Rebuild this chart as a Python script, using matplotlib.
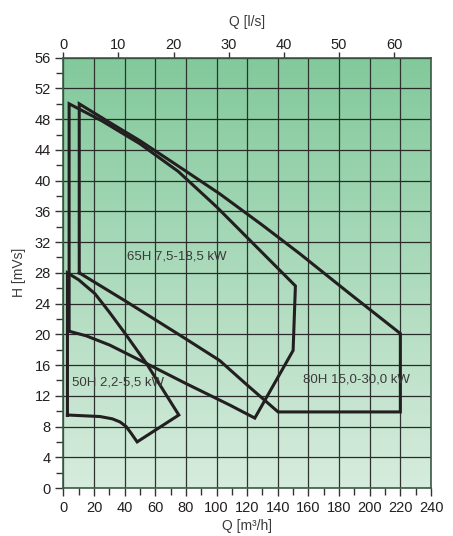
import matplotlib
matplotlib.use("Agg")
import matplotlib.pyplot as plt
import numpy as np
from matplotlib import font_manager
from matplotlib.colors import LinearSegmentedColormap

# ---- data (Q in m3/h, H in mVs) ----
q_50h = [2.7, 2.7, 10, 20.6, 30, 40, 54.3, 75.4, 48.2, 44, 41, 37, 32, 24, 2.7]
h_50h = [9.5, 28.0, 27.1, 25.3, 22.9, 20.2, 16.2, 9.5, 6.0, 7.2, 8.0, 8.6, 9.0, 9.3, 9.5]

q_65h = [3.8, 3.8, 25, 50, 75, 100, 125, 151.5, 150, 125, 108.6, 80, 54.3, 30.3, 15, 3.8]
h_65h = [20.4, 50.0, 47.8, 44.8, 41.2, 36.6, 31.6, 26.3, 17.9, 9.1, 10.8, 13.6, 16.2, 18.6, 19.8, 20.4]

q_80h = [10.4, 10.4, 30, 50, 75, 102, 130, 154.3, 185, 220, 220, 140.2, 120, 102, 80, 60.8, 40, 10.4]
h_80h = [28.0, 50.0, 47.6, 45.2, 41.9, 38.3, 34.2, 30.5, 25.6, 20.1, 9.9, 9.9, 13.4, 16.6, 19.4, 21.8, 24.4, 28.0]

labels = ["50H 2,2-5,5 kW", "65H 7,5-18,5 kW", "80H 15,0-30,0 kW"]
label_q = [5.5, 41.5, 156.5]
label_h = [13.7, 30.1, 14.1]

x_ticks = list(range(0, 241, 20))
y_ticks = list(range(0, 57, 4))
top_ticks = list(range(0, 61, 10))

# ---- fonts ----
avail = {f.name for f in font_manager.fontManager.ttflist}
main_font = ["Liberation Sans", "DejaVu Sans"]
narrow_font = ["Liberation Sans Narrow", "Liberation Sans", "DejaVu Sans"] if "Liberation Sans Narrow" in avail else main_font
plt.rcParams["font.family"] = main_font

fig = plt.figure(figsize=(4.53, 5.36), dpi=100)
ax = fig.add_axes([63.3/453, 48/536, 367.7/453, 430.3/536])
ax.set_xlim(0, 240)
ax.set_ylim(0, 56)

# gradient background
cmap = LinearSegmentedColormap.from_list("g", ["#d6ecdd", "#82c99b"])
grad = np.linspace(0, 1, 256).reshape(-1, 1)
ax.imshow(grad, extent=[0, 240, 0, 56], origin="lower", aspect="auto", cmap=cmap, zorder=0)

# grid
for x in x_ticks:
    ax.axvline(x, color="#2e332f", lw=0.9, zorder=1)
for y in y_ticks:
    ax.axhline(y, color="#2a2a2a", lw=0.9, zorder=1)

lc = "#231f20"
for q, h in [(q_50h, h_50h), (q_65h, h_65h), (q_80h, h_80h)]:
    ax.plot(q, h, color=lc, lw=2.2, solid_joinstyle="miter", zorder=3)

for t, x, y in zip(labels, label_q, label_h):
    ax.text(x, y, t, fontsize=9.5, color="#3a3a3a", va="center", ha="left",
            family=narrow_font, zorder=4)

ax.set_xticks(x_ticks)
ax.set_xticks(list(range(10, 240, 20)), minor=True)
ax.set_yticks(y_ticks)
ax.set_yticks(list(range(2, 56, 4)), minor=True)
ax.tick_params(axis="both", which="major", length=6, width=1, color="#333333",
               labelsize=10.5, labelcolor="#231f20", pad=3)
ax.tick_params(axis="both", which="minor", length=5, width=1, color="#333333")
for s in ax.spines.values():
    s.set_color("#3c5a46")
    s.set_linewidth(1.2)

ax.set_xlabel("Q [m³/h]", fontsize=10, color="#3a3a3a", family=narrow_font, labelpad=3)
ax.set_ylabel("H [mVs]", fontsize=10, color="#3a3a3a", family=narrow_font, labelpad=6)

sec = ax.secondary_xaxis("top", functions=(lambda v: v / 3.6, lambda v: v * 3.6))
sec.set_xticks(top_ticks)
sec.tick_params(axis="x", length=4, width=1, color="#333333", labelsize=10.5,
                labelcolor="#231f20", pad=0)
sec.spines["top"].set_visible(False)
sec.set_xlabel("Q [l/s]", fontsize=10, color="#3a3a3a", family=narrow_font, labelpad=9)

fig.savefig("out.png", dpi=100)
